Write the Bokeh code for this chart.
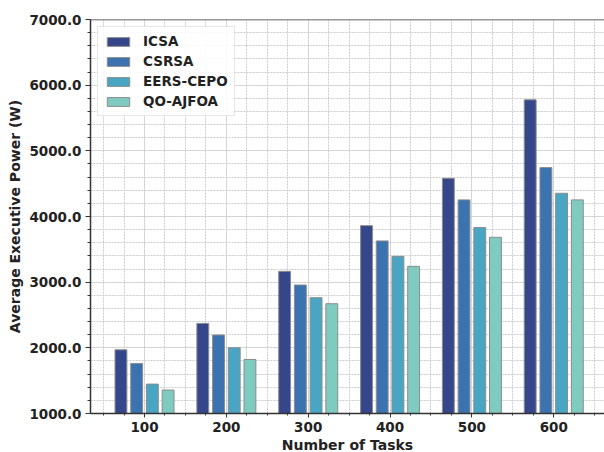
from bokeh.plotting import figure
from bokeh.models import (Range1d, SingleIntervalTicker, NumeralTickFormatter, Span, Legend)
from bokeh.embed import file_html
from bokeh.resources import INLINE

tasks = [100, 200, 300, 400, 500, 600]
icsa = [1970, 2372, 3165, 3861, 4582, 5777]
csrsa = [1762, 2195, 2957, 3628, 4253, 4745]
eers_cepo = [1448, 2001, 2764, 3393, 3831, 4354]
qo_ajfoa = [1357, 1823, 2672, 3241, 3683, 4253]

series_names = ["ICSA", "CSRSA", "EERS-CEPO", "QO-AJFOA"]
series_values = [icsa, csrsa, eers_cepo, qo_ajfoa]
colors = ["#36468a", "#3b72b0", "#49a5c4", "#7fcbc0"]
offsets = [-28.8, -9.6, 9.6, 28.8]
bar_w = 14.5

FONT = "DejaVu Sans"

p = figure(frame_width=514, frame_height=394, output_backend="svg", toolbar_location=None,
           x_range=Range1d(34, 662), y_range=Range1d(1000, 7000),
           min_border_left=90, min_border_right=0, min_border_top=19, min_border_bottom=39)
p.outline_line_color = None
p.background_fill_color = "white"
p.border_fill_color = "white"

renderers = []
for name, vals, col, off in zip(series_names, series_values, colors, offsets):
    r = p.vbar(x=[t + off for t in tasks], top=vals, bottom=0, width=bar_w,
               fill_color=col, line_color="#8c8c8c", line_width=1)
    renderers.append((name, [r]))

legend = Legend(items=renderers, location="top_left")
legend.margin = 7
legend.padding = 6
legend.spacing = 4
legend.glyph_width = 28
legend.glyph_height = 11
legend.label_height = 16
legend.label_standoff = 11
legend.label_text_font = FONT
legend.label_text_font_style = "bold"
legend.label_text_font_size = "13.5px"
legend.label_text_color = "#222222"
legend.border_line_color = "#d0d0d0"
legend.border_line_width = 1
legend.background_fill_alpha = 0.85
p.add_layout(legend)

# axes
p.xaxis.ticker = SingleIntervalTicker(interval=100, num_minor_ticks=4)
p.yaxis.ticker = SingleIntervalTicker(interval=1000, num_minor_ticks=5)
p.yaxis.formatter = NumeralTickFormatter(format="0.0")
for ax in (p.xaxis[0], p.yaxis[0]):
    ax.axis_line_color = "#333333"
    ax.axis_line_width = 1.5
    ax.major_tick_line_color = "#333333"
    ax.minor_tick_line_color = "#333333"
    ax.major_tick_in = 0
    ax.minor_tick_in = 0
    ax.major_label_text_font = FONT
    ax.major_label_text_font_style = "bold"
    ax.major_label_text_font_size = "13.5px"
    ax.major_label_text_color = "#222222"
    ax.axis_label_text_font = FONT
    ax.axis_label_text_font_style = "bold"
    ax.axis_label_text_font_size = "14px"
    ax.axis_label_text_color = "#222222"

p.xaxis.major_tick_out = 4
p.xaxis.minor_tick_out = 2
p.xaxis.major_label_standoff = 4
p.xaxis.axis_label_standoff = 2
p.xaxis.axis_label = "Number of Tasks"
p.yaxis.major_tick_out = 5
p.yaxis.minor_tick_out = 3
p.yaxis.major_label_standoff = 4
p.yaxis.axis_label_standoff = 3
p.yaxis.axis_label = "Average Executive Power (W)"

# grids
for g in (p.xgrid[0], p.ygrid[0]):
    g.grid_line_color = "#cdcdcd"
    g.grid_line_dash = "2 1"
    g.grid_line_width = 1
    g.minor_grid_line_color = "#cdcdcd"
    g.minor_grid_line_dash = "2 1"
    g.minor_grid_line_width = 1

top_spine = Span(location=7000, dimension="width", line_color="#333333", line_width=1.5)
p.add_layout(top_spine)

open("out.html", "w").write(file_html(p, INLINE))
